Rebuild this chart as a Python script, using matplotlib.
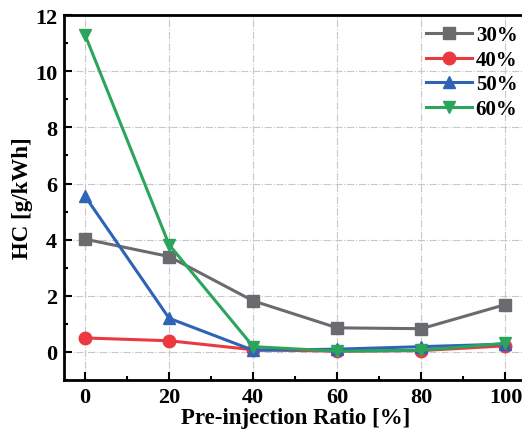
import matplotlib
matplotlib.use("Agg")
import matplotlib.pyplot as plt
from matplotlib.ticker import MultipleLocator

ratio = [0, 20, 40, 60, 80, 100]
hc_30 = [4.02, 3.40, 1.82, 0.86, 0.83, 1.69]
hc_40 = [0.50, 0.40, 0.08, 0.03, 0.05, 0.22]
hc_50 = [5.55, 1.20, 0.06, 0.10, 0.19, 0.28]
hc_60 = [11.30, 3.82, 0.19, 0.03, 0.06, 0.31]
labels = ["30%", "40%", "50%", "60%"]

plt.rcParams["font.family"] = "Liberation Serif"
plt.rcParams["font.weight"] = "bold"

fig = plt.figure(figsize=(5.22, 4.35), dpi=100)
ax = fig.add_axes([0.1226, 0.124, 0.886, 0.839])

styles = [
    (hc_30, "#6a6b6e", "s"),
    (hc_40, "#ea3a3f", "o"),
    (hc_50, "#2e63b6", "^"),
    (hc_60, "#2ba55c", "v"),
]
for (vals, col, mk), lab in zip(styles, labels):
    ax.plot(ratio, vals, color=col, marker=mk, markersize=9, lw=2.2,
            label=lab, clip_on=False)

ax.set_xlim(-5, 105)
ax.set_ylim(-1, 12)
ax.xaxis.set_major_locator(MultipleLocator(20))
ax.xaxis.set_minor_locator(MultipleLocator(10))
ax.yaxis.set_major_locator(MultipleLocator(2))
ax.yaxis.set_minor_locator(MultipleLocator(1))
ax.tick_params(which="both", direction="in", labelsize=16, width=1.5)
ax.tick_params(which="major", length=6, pad=5)
ax.tick_params(which="minor", length=3)
for s in ax.spines.values():
    s.set_linewidth(2)

ax.grid(True, which="major", color="#c8c8c8", ls="-.", lw=0.8)
ax.set_axisbelow(True)

ax.set_xlabel("Pre-injection Ratio [%]", fontsize=16.5, fontweight="bold", labelpad=0)
ax.set_ylabel("HC [g/kWh]", fontsize=16.5, fontweight="bold", labelpad=1)

leg = ax.legend(loc="upper right", bbox_to_anchor=(1.012, 1.012), frameon=False,
                fontsize=15, handlelength=2.2, labelspacing=0.22,
                handletextpad=0.2, borderaxespad=0.3)

fig.savefig("out.png", dpi=100)
